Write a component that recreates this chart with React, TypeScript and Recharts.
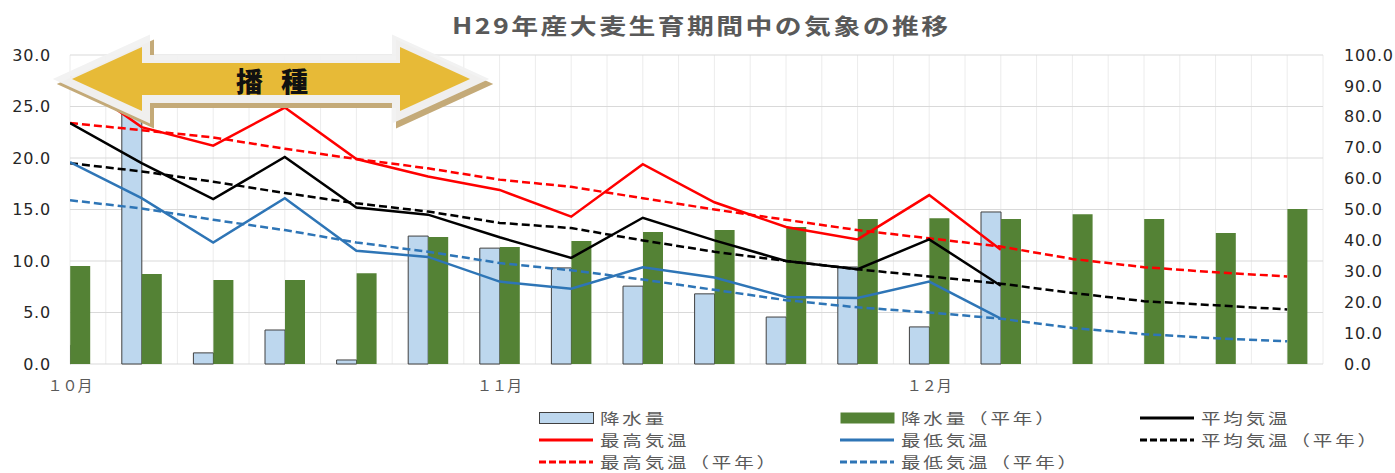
import React from "react"
import { Bar, CartesianGrid, ComposedChart, Line, XAxis, YAxis } from "recharts"

// 半旬ごと (10月〜12月, 18期間)
const periods = [0, 1, 2, 3, 4, 5, 6, 7, 8, 9, 10, 11, 12, 13, 14, 15, 16, 17]
const gridTicks = [
  0, 0.5, 1, 1.5, 2, 2.5, 3, 3.5, 4, 4.5, 5, 5.5, 6, 6.5, 7, 7.5, 8, 8.5, 9, 9.5, 10, 10.5, 11, 11.5,
  12, 12.5, 13, 13.5, 14, 14.5, 15, 15.5, 16, 16.5, 17, 17.5,
]
const monthLabels: Record<number, string> = { 0: "１０月", 6: "１１月", 12: "１２月" }
const tempTicks = [0, 5, 10, 15, 20, 25, 30]
const rainTicks = [0, 10, 20, 30, 40, 50, 60, 70, 80, 90, 100]

// 降水量 (mm, 右軸)
const rain = [6.1, 88.0, 3.6, 11.0, 1.3, 41.4, 37.5, 31.1, 25.2, 22.7, 15.2, 31.4, 12.0, 49.2, null, null, null, null]
const rainNormal = [31.7, 29.1, 27.2, 27.2, 29.4, 41.1, 37.9, 39.8, 42.7, 43.4, 44.3, 46.9, 47.2, 46.9, 48.5, 46.9, 42.4, 50.2]

// 気温 (℃, 左軸)
const tempMean = [23.4, 19.5, 16.0, 20.1, 15.2, 14.5, 12.3, 10.3, 14.2, 12.0, 10.0, 9.2, 12.1, 7.6, null, null, null, null]
const tempMax = [27.9, 23.0, 21.2, 24.9, 19.9, 18.2, 16.9, 14.3, 19.4, 15.7, 13.3, 12.1, 16.4, 11.1, null, null, null, null]
const tempMin = [19.6, 16.1, 11.8, 16.1, 11.0, 10.4, 8.0, 7.3, 9.4, 8.4, 6.5, 6.4, 8.0, 4.4, null, null, null, null]
const tempMeanNormal = [19.5, 18.7, 17.7, 16.6, 15.6, 14.8, 13.7, 13.2, 12.0, 10.9, 10.0, 9.2, 8.5, 7.8, 6.9, 6.1, 5.7, 5.3]
const tempMaxNormal = [23.4, 22.7, 22.0, 20.9, 19.9, 19.0, 17.9, 17.2, 16.1, 15.0, 14.0, 13.0, 12.2, 11.4, 10.2, 9.4, 8.9, 8.5]
const tempMinNormal = [15.9, 15.1, 14.0, 13.0, 11.8, 10.9, 9.8, 9.1, 8.2, 7.2, 6.2, 5.5, 5.0, 4.4, 3.5, 2.9, 2.5, 2.2]

const data = periods.map((idx, i) => ({
  idx,
  rain: rain[i],
  rainNormal: rainNormal[i],
  tempMean: tempMean[i],
  tempMax: tempMax[i],
  tempMin: tempMin[i],
  tempMeanNormal: tempMeanNormal[i],
  tempMaxNormal: tempMaxNormal[i],
  tempMinNormal: tempMinNormal[i],
}))

const BLUE = "#2E75B6"
const RED = "#FF0000"
const GREEN = "#548235"
const LIGHTBLUE = "#BDD7EE"
const JP = "'Noto Sans CJK JP', sans-serif"
const NUM = "'DejaVu Sans', 'Noto Sans CJK JP', sans-serif"

type LegendItem = { name: string; kind: "bar" | "line"; color: string; stroke?: string; dashed?: boolean }
const legendItems: LegendItem[] = [
  { name: "降水量", kind: "bar", color: LIGHTBLUE, stroke: "#404040" },
  { name: "降水量（平年）", kind: "bar", color: GREEN },
  { name: "平均気温", kind: "line", color: "#000000" },
  { name: "最高気温", kind: "line", color: RED },
  { name: "最低気温", kind: "line", color: BLUE },
  { name: "平均気温（平年）", kind: "line", color: "#000000", dashed: true },
  { name: "最高気温（平年）", kind: "line", color: RED, dashed: true },
  { name: "最低気温（平年）", kind: "line", color: BLUE, dashed: true },
]

function ChartLegend() {
  const cols = [539, 840, 1140]
  const rows = [418, 440, 462]
  return (
    <>
      {legendItems.map((item, i) => {
        const x = cols[i % 3]
        const y = rows[Math.floor(i / 3)]
        return (
          <div key={item.name} style={{ position: "absolute", left: x, top: y - 10, height: 20, display: "flex", alignItems: "center" }}>
            <svg width={56} height={20} style={{ display: "block" }}>
              {item.kind === "bar" ? (
                <rect x={0.5} y={4.5} width={54} height={11} fill={item.color} stroke={item.stroke ?? "none"} strokeWidth={1} />
              ) : (
                <line x1={0} x2={54} y1={10} y2={10} stroke={item.color} strokeWidth={3} strokeDasharray={item.dashed ? "7 3" : undefined} />
              )}
            </svg>
            <span
              style={{
                display: "inline-block",
                marginLeft: 5,
                fontFamily: JP,
                fontSize: 15,
                letterSpacing: 2.2,
                color: "#595959",
                whiteSpace: "nowrap",
                lineHeight: "20px",
                transform: "scaleX(1.3)",
                transformOrigin: "left center",
              }}
            >
              {item.name}
            </span>
          </div>
        )
      })}
    </>
  )
}

function SowingArrow() {
  const pts = "72,79 142,47 142,63 400,63 400,47 470,79 400,111 400,95 142,95 142,111"
  return (
    <svg width={1395} height={473} style={{ position: "absolute", left: 0, top: 0, pointerEvents: "none" }}>
      <polygon points={pts} transform="translate(4,5)" fill="#C4AA78" stroke="#C4AA78" strokeWidth={16} strokeLinejoin="miter" strokeMiterlimit={10} />
      <polygon points={pts} fill="#F2F2F2" stroke="#F2F2F2" strokeWidth={16} strokeLinejoin="miter" strokeMiterlimit={10} opacity={0.97} />
      <polygon points={pts} fill="#E6B422" opacity={0.9} />
      <text x={275} y={80} textAnchor="middle" dominantBaseline="central" fontFamily={JP} fontWeight={900} fontSize={27} letterSpacing={6} fill="#111">
        播 種
      </text>
    </svg>
  )
}

export default function App() {
  return (
    <div style={{ position: "absolute", left: 0, top: 0, width: 1395, height: 473, background: "#fff", fontFamily: NUM }}>
      <div
        style={{
          position: "absolute",
          left: 452,
          top: 12,
          lineHeight: "24px",
          fontFamily: JP,
          fontWeight: 700,
          fontSize: 22,
          letterSpacing: 2,
          color: "#595959",
          whiteSpace: "nowrap",
          transform: "scaleX(1.22)",
          transformOrigin: "left center",
        }}
      >
        H29年産大麦生育期間中の気象の推移
      </div>
      <div style={{ position: "absolute", left: 0, top: 0 }}>
        <ComposedChart width={1395} height={473} data={data} margin={{ top: 55, right: 0, bottom: 79, left: 0 }} barGap={0}>
          <CartesianGrid xAxisId="half" yAxisId="left" horizontal={false} stroke="#ececec" />
          <CartesianGrid yAxisId="left" vertical={false} stroke="#d9d9d9" />
          <XAxis
            dataKey="idx"
            type="number"
            domain={[0, 17.5]}
            ticks={periods}
            interval={0}
            allowDataOverflow
            axisLine={false}
            tickLine={false}
            tickSize={0}
            tickMargin={16}
            height={30}
            tickFormatter={(v: number) => monthLabels[v] ?? ""}
            tick={{ fill: "#595959", fontSize: 15, fontFamily: JP }}
          />
          <XAxis xAxisId="half" dataKey="idx" type="number" domain={[0, 17.5]} ticks={gridTicks} interval={0} allowDataOverflow hide />
          <YAxis
            yAxisId="left"
            orientation="left"
            domain={[0, 30]}
            ticks={tempTicks}
            interval={0}
            width={70}
            axisLine={false}
            tickLine={false}
            tickSize={0}
            tickMargin={19}
            tickFormatter={(v: number) => v.toFixed(1)}
            tick={{ fill: "#262626", fontSize: 16, letterSpacing: 0.8 }}
          />
          <YAxis
            yAxisId="right"
            orientation="right"
            domain={[0, 100]}
            ticks={rainTicks}
            interval={0}
            width={72}
            axisLine={false}
            tickLine={false}
            tickSize={0}
            tickMargin={21}
            tickFormatter={(v: number) => v.toFixed(1)}
            tick={{ fill: "#262626", fontSize: 16, letterSpacing: 0.8 }}
          />
          <Bar yAxisId="right" dataKey="rain" name="降水量" fill={LIGHTBLUE} stroke="#404040" strokeWidth={1} barSize={20} isAnimationActive={false} />
          <Bar yAxisId="right" dataKey="rainNormal" name="降水量（平年）" fill={GREEN} barSize={20} isAnimationActive={false} />
          <Line yAxisId="left" dataKey="tempMaxNormal" name="最高気温（平年）" stroke={RED} strokeWidth={2.5} strokeDasharray="8 4" dot={false} activeDot={false} isAnimationActive={false} />
          <Line yAxisId="left" dataKey="tempMeanNormal" name="平均気温（平年）" stroke="#000" strokeWidth={2.5} strokeDasharray="8 4" dot={false} activeDot={false} isAnimationActive={false} />
          <Line yAxisId="left" dataKey="tempMinNormal" name="最低気温（平年）" stroke={BLUE} strokeWidth={2.5} strokeDasharray="8 4" dot={false} activeDot={false} isAnimationActive={false} />
          <Line yAxisId="left" dataKey="tempMean" name="平均気温" stroke="#000" strokeWidth={2.5} dot={false} activeDot={false} isAnimationActive={false} />
          <Line yAxisId="left" dataKey="tempMax" name="最高気温" stroke={RED} strokeWidth={2.5} dot={false} activeDot={false} isAnimationActive={false} />
          <Line yAxisId="left" dataKey="tempMin" name="最低気温" stroke={BLUE} strokeWidth={2.5} dot={false} activeDot={false} isAnimationActive={false} />
        </ComposedChart>
      </div>
      <SowingArrow />
      <ChartLegend />
    </div>
  )
}
